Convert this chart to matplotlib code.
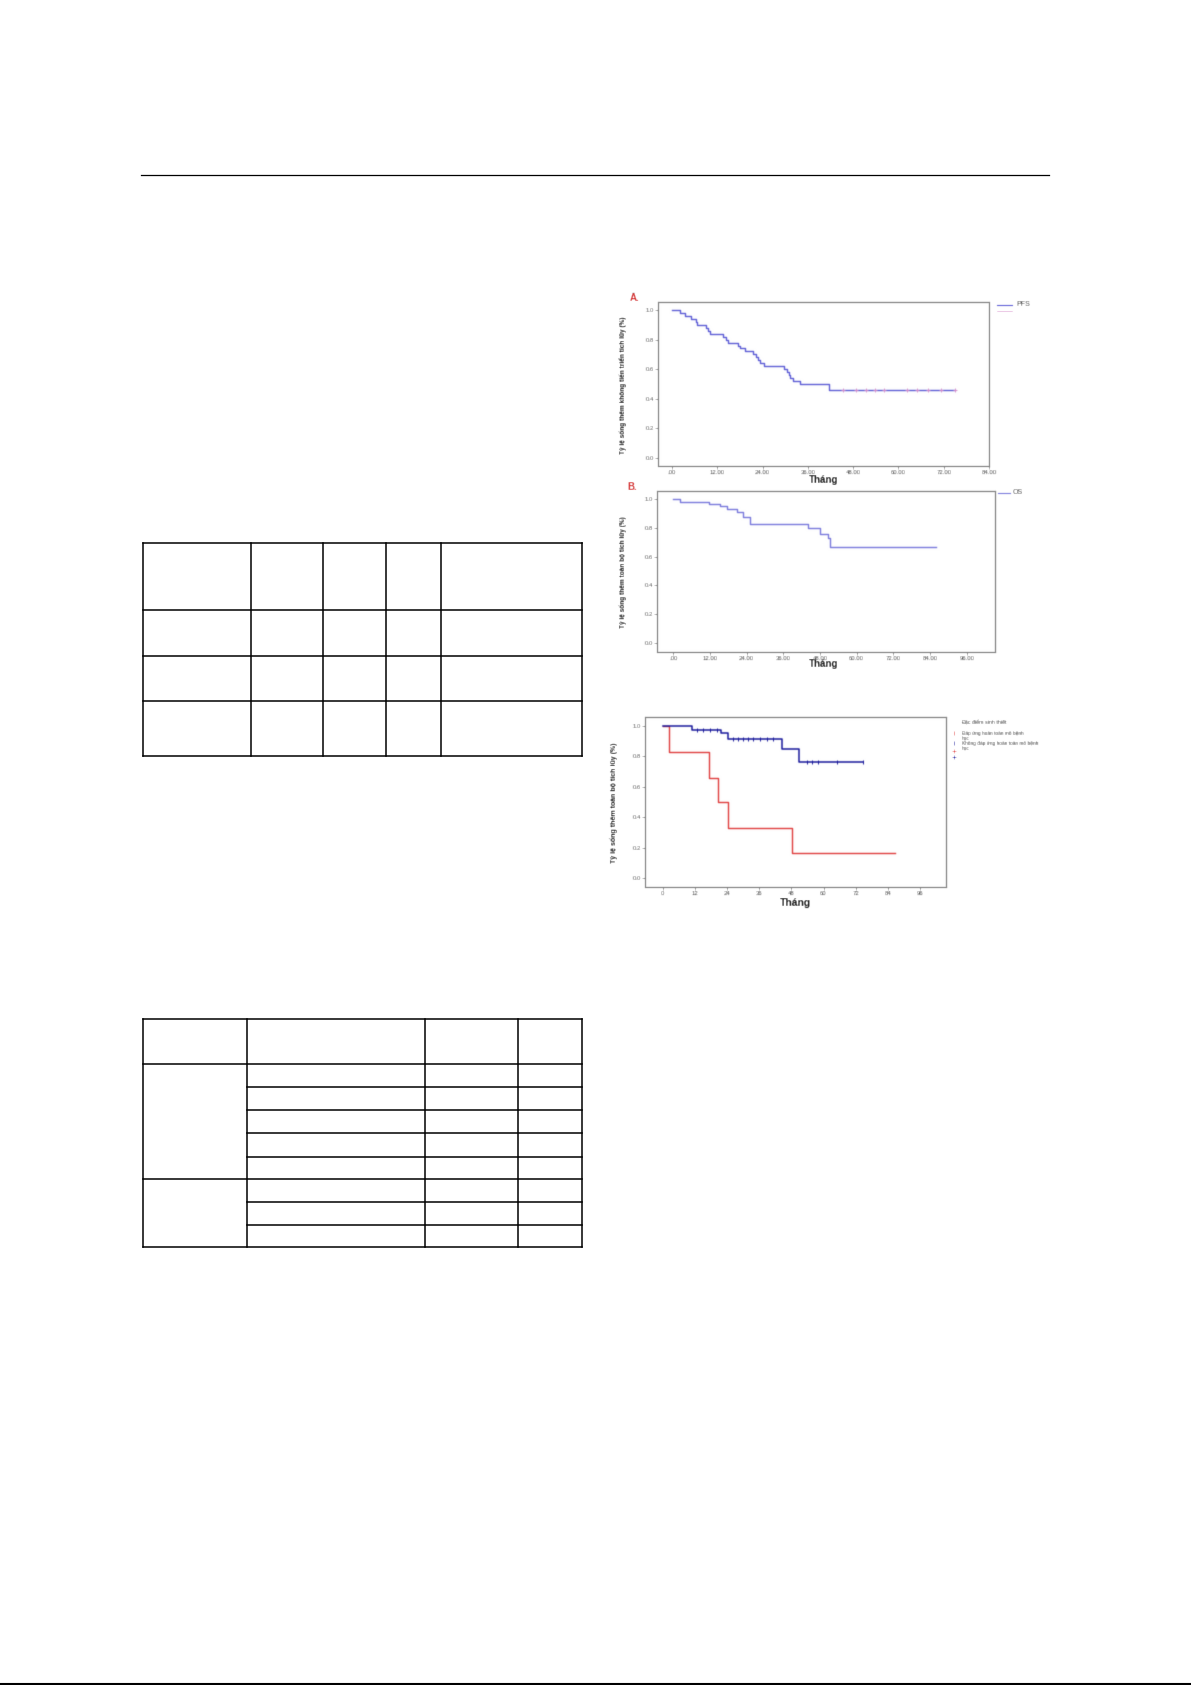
import numpy as np
import matplotlib
matplotlib.use("Agg")
import matplotlib.pyplot as plt

W, H = 1191, 1685

# Panel A: progression-free survival (Kaplan-Meier steps)
pfs_months = [0, 2.1, 3.4, 5.1, 6.3, 6.7, 9.0, 9.6, 10.2, 13.5, 14.2, 14.9, 17.5, 17.9,
              19.3, 21.4, 22.2, 22.8, 23.2, 24.3, 29.8, 30.4, 30.9, 31.3, 32.0, 33.8, 41.7, 75.0]
pfs_surv = [1.0, 0.98, 0.96, 0.94, 0.92, 0.90, 0.88, 0.86, 0.84, 0.82, 0.80, 0.78, 0.76, 0.74,
            0.72, 0.70, 0.68, 0.66, 0.64, 0.62, 0.60, 0.58, 0.56, 0.54, 0.52, 0.50, 0.46, 0.46]
pfs_censor_months = [45.2, 48.7, 51.3, 53.9, 56.1, 62.2, 64.9, 67.9, 71.4, 74.9]
pfs_censor_surv = [0.46] * 10

# Panel B: overall survival
os_months = [0, 2.2, 11.8, 15.3, 17.5, 20.7, 22.9, 25.1, 44.1, 48.0, 50.7, 51.2, 86.0]
os_surv = [1.0, 0.98, 0.97, 0.95, 0.93, 0.91, 0.88, 0.83, 0.80, 0.76, 0.73, 0.67, 0.67]

# Panel C: overall survival by pathological response
cr_months = [0, 11.0, 21.8, 24.5, 44.4, 51.0, 74.9]
cr_surv = [1.0, 0.97, 0.95, 0.91, 0.85, 0.76, 0.76]
cr_censor_months = [12.7, 15.2, 17.6, 20.1, 26.3, 28.2, 30.1, 31.9, 33.8, 36.3, 38.8, 41.3,
                    53.7, 55.6, 58.1, 64.9, 74.9]
cr_censor_surv = [0.97, 0.97, 0.97, 0.97, 0.91, 0.91, 0.91, 0.91, 0.91, 0.91, 0.91, 0.91,
                  0.76, 0.76, 0.76, 0.76, 0.76]
ncr_months = [0, 2.4, 17.3, 20.5, 24.5, 48.4, 86.7]
ncr_surv = [1.0, 0.83, 0.66, 0.50, 0.33, 0.165, 0.165]

# Axis ticks
month_ticks_a = [0, 12, 24, 36, 48, 60, 72, 84]
month_labels_a = [".00", "12.00", "24.00", "36.00", "48.00", "60.00", "72.00", "84.00"]
month_ticks_b = [0, 12, 24, 36, 48, 60, 72, 84, 96]
month_labels_b = [".00", "12.00", "24.00", "36.00", "48.00", "60.00", "72.00", "84.00", "96.00"]
month_ticks_c = [0, 12, 24, 36, 48, 60, 72, 84, 96]
month_labels_c = ["0", "12", "24", "36", "48", "60", "72", "84", "96"]
surv_ticks = [0.0, 0.2, 0.4, 0.6, 0.8, 1.0]
surv_labels = ["0.0", "0.2", "0.4", "0.6", "0.8", "1.0"]

plt.rcParams["font.family"] = ["Liberation Sans", "DejaVu Sans"]


def soften(img, dpi, sigma=0.55):
    """Light gaussian blur used for the scanned-looking figure panels."""
    r = 2
    k = np.exp(-0.5 * (np.arange(-r, r + 1) / sigma) ** 2)
    k /= k.sum()
    pad = np.pad(img, ((r, r), (r, r), (0, 0)))
    tmp = np.zeros_like(pad)
    for i, w in enumerate(k):
        tmp += w * np.roll(pad, i - r, axis=0)
    out = np.zeros_like(pad)
    for i, w in enumerate(k):
        out += w * np.roll(tmp, i - r, axis=1)
    return out, -r, -r


fig = plt.figure(figsize=(W / 100, H / 100), dpi=100)
fig.patch.set_facecolor("white")

# Page overlay (crisp): rules and tables
page = fig.add_axes([0, 0, 1, 1])
page.set_xlim(0, W)
page.set_ylim(H, 0)
page.axis("off")

# Overlay for panel annotations (softened like the panels)
notes = fig.add_axes([0, 0, 1, 1])
notes.set_xlim(0, W)
notes.set_ylim(H, 0)
notes.axis("off")
notes.set_agg_filter(soften)


def px_axes(left, top, right, bottom):
    ax = fig.add_axes([left / W, 1 - bottom / H, (right - left) / W, (bottom - top) / H])
    ax.set_agg_filter(soften)
    return ax


def style(ax, xlim, ylim, xticks, xlabels):
    ax.set_xlim(*xlim)
    ax.set_ylim(*ylim)
    ax.set_xticks(xticks)
    ax.set_xticklabels(xlabels)
    ax.set_yticks(surv_ticks)
    ax.set_yticklabels(surv_labels)
    for s in ax.spines.values():
        s.set_color("#7a7a7a")
        s.set_linewidth(0.8)
    ax.tick_params(direction="out", length=2, width=0.6, colors="#7a7a7a",
                   labelsize=4.3, labelcolor="#444444", pad=1)


# Header rule and page edge
page.plot([141, 1049], [175, 175], color="black", lw=0.9)
page.plot([0, W], [1684, 1684], color="black", lw=1.5)

# Table 1
t1_cols = [143, 251, 323, 386, 441, 582]
t1_rows = [543, 610, 656, 701, 756]
for x in t1_cols:
    page.plot([x, x], [t1_rows[0], t1_rows[-1]], color="black", lw=1.1)
for y in t1_rows:
    page.plot([t1_cols[0], t1_cols[-1]], [y, y], color="black", lw=1.1)

# Table 2 (grouped first column)
t2_cols = [143, 247, 425, 518, 582]
t2_rows = [1019, 1064, 1087, 1110, 1133, 1157, 1179, 1202, 1225, 1247]
t2_full_rows = [1019, 1064, 1179, 1247]
for x in t2_cols:
    page.plot([x, x], [t2_rows[0], t2_rows[-1]], color="black", lw=1.1)
for y in t2_rows:
    x0 = t2_cols[0] if y in t2_full_rows else t2_cols[1]
    page.plot([x0, t2_cols[-1]], [y, y], color="black", lw=1.1)

label_kw = dict(rotation=90, ha="center", va="center", fontweight="bold", color="#111111")
xlab_kw = dict(ha="center", va="center", fontweight="bold", color="#111111")

# ---- Panel A ----
pfs_color = "#5c5cd6"
axA = px_axes(658, 302, 989, 466)
axA.step(pfs_months, pfs_surv, where="post", color=pfs_color, lw=1.0)
axA.plot(pfs_censor_months, pfs_censor_surv, ls="none", marker="+", ms=3, mew=0.6,
         color="#d68ac8")
style(axA, (-3.7, 84), (-0.054, 1.054), month_ticks_a, month_labels_a)
notes.text(623, 385, "Tỷ lệ sống thêm không tiến triển tích lũy (%)", fontsize=4.7,
           **label_kw)
notes.text(824, 480, "Tháng", fontsize=7, **xlab_kw)
notes.text(630, 298, "A.", ha="left", va="center", fontsize=7, fontweight="bold",
           color="#d22828")
notes.plot([997, 1012], [305, 305], color=pfs_color, lw=0.8)
notes.plot([997, 1012], [311, 311], color="#d68ac8", lw=0.6)
notes.text(1016, 305, "PFS", ha="left", va="center", fontsize=5, color="#333333")

# ---- Panel B ----
os_color = "#7878dc"
axB = px_axes(657, 491, 995, 652)
axB.step(os_months, os_surv, where="post", color=os_color, lw=1.0)
style(axB, (-5.3, 105.2), (-0.065, 1.058), month_ticks_b, month_labels_b)
notes.text(623, 572, "Tỷ lệ sống thêm toàn bộ tích lũy (%)", fontsize=4.7, **label_kw)
notes.text(824, 664, "Tháng", fontsize=7, **xlab_kw)
notes.text(627, 487, "B.", ha="left", va="center", fontsize=7, fontweight="bold",
           color="#d22828")
notes.plot([998, 1010], [493, 493], color=os_color, lw=0.8)
notes.text(1013, 492, "OS", ha="left", va="center", fontsize=5, color="#333333")

# ---- Panel C ----
cr_color = "#1a1a9c"
ncr_color = "#e03c3c"
axC = px_axes(645, 717, 946, 887)
axC.step(ncr_months, ncr_surv, where="post", color=ncr_color, lw=1.0)
axC.step(cr_months, cr_surv, where="post", color=cr_color, lw=1.1)
axC.plot(cr_censor_months, cr_censor_surv, ls="none", marker="|", ms=3, mew=0.7,
         color=cr_color)
style(axC, (-6.6, 105.7), (-0.057, 1.057), month_ticks_c, month_labels_c)
notes.text(614, 803, "Tỷ lệ sống thêm toàn bộ tích lũy (%)", fontsize=5.0, **label_kw)
notes.text(795, 903, "Tháng", fontsize=7.5, **xlab_kw)

# Legend for panel C
notes.text(961, 723, "Đặc điểm sinh thiết", ha="left", va="center", fontsize=3.8,
           color="#333333")
notes.plot([954], [733], marker="|", ms=2.5, color=ncr_color, mew=0.6)
notes.text(962, 731, "Đáp ứng hoàn toàn mô bệnh\nhọc", ha="left", va="top",
           fontsize=3.4, color="#333333", linespacing=0.9)
notes.plot([954], [743], marker="|", ms=2.5, color=cr_color, mew=0.6)
notes.text(962, 741, "Không đáp ứng hoàn toàn mô bệnh\nhọc", ha="left", va="top",
           fontsize=3.4, color="#333333", linespacing=0.9)
notes.plot([954], [751], marker="+", ms=2.5, color=ncr_color, mew=0.5)
notes.plot([954], [757], marker="+", ms=2.5, color=cr_color, mew=0.5)

fig.savefig("out.png", dpi=100)
